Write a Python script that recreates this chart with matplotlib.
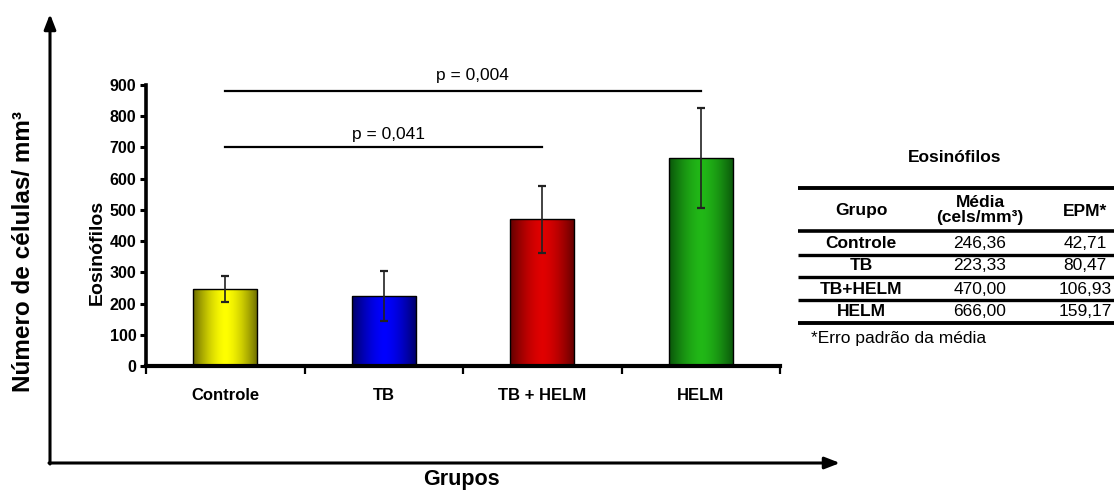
import numpy as np
import matplotlib
matplotlib.use("Agg")
import matplotlib.pyplot as plt

# data
groups = ["Controle", "TB", "TB + HELM", "HELM"]
means = [246.36, 223.33, 470.00, 666.00]
sems = [42.71, 80.47, 106.93, 159.17]
yticks = [0, 100, 200, 300, 400, 500, 600, 700, 800, 900]

# significance brackets: (from, to, height, label)
sig_pairs = [(0, 3, 881, "p = 0,004"), (0, 2, 700, "p = 0,041")]

# table contents
tbl_groups = ["Controle", "TB", "TB+HELM", "HELM"]
tbl_means = ["246,36", "223,33", "470,00", "666,00"]
tbl_sems = ["42,71", "80,47", "106,93", "159,17"]

edge_cols = [(0.42, 0.42, 0.0), (0.0, 0.0, 0.40), (0.38, 0.0, 0.0), (0.04, 0.33, 0.04)]
mid_cols = [(1.0, 1.0, 0.0), (0.0, 0.0, 1.0), (0.88, 0.0, 0.0), (0.13, 0.72, 0.09)]

plt.rcParams["font.family"] = ["Liberation Sans", "DejaVu Sans"]

W, H = 1114, 491
fig = plt.figure(figsize=(W / 100, H / 100), dpi=100)

# overlay in pixel coordinates for arrows + table
ov = fig.add_axes([0, 0, 1, 1])
ov.set_xlim(0, W)
ov.set_ylim(H, 0)
ov.axis("off")

arrow = dict(arrowstyle="-|>,head_length=0.9,head_width=0.35", color="black", lw=2.2,
             shrinkA=0, shrinkB=0)
ov.annotate("", xy=(50, 14), xytext=(50, 464), arrowprops=arrow)
ov.annotate("", xy=(840, 463), xytext=(49, 463), arrowprops=arrow)
ov.text(24, 252, "Número de células/ mm³", rotation=90, ha="center", va="center",
        fontsize=17.5, fontweight="bold")
ov.text(461, 480, "Grupos", ha="center", va="center", fontsize=15.5, fontweight="bold")
ov.text(97, 252, "Eosinófilos", rotation=90, ha="center", va="center",
        fontsize=14, fontweight="bold")

# table
FS = 12.5
ov.text(955, 157, "Eosinófilos", ha="center", va="center", fontsize=FS, fontweight="bold")
for yy, lw in [(188, 2.8), (231, 2.6), (255, 2.4), (277, 2.4), (300, 2.4), (323, 2.8)]:
    ov.plot([798, 1114], [yy, yy], color="black", lw=lw, solid_capstyle="butt")
cx = [861, 980, 1085]
ov.text(cx[0], 211, "Grupo", ha="center", va="center", fontsize=FS, fontweight="bold")
ov.text(cx[1], 210, "Média\n(cels/mm³)", ha="center", va="center", fontsize=FS,
        fontweight="bold", linespacing=1.0)
ov.text(cx[2], 211, "EPM*", ha="center", va="center", fontsize=FS, fontweight="bold")
row_y = [243, 266, 289, 312]
for g, m, s, yy in zip(tbl_groups, tbl_means, tbl_sems, row_y):
    ov.text(cx[0], yy, g, ha="center", va="center", fontsize=FS, fontweight="bold")
    ov.text(cx[1], yy, m, ha="center", va="center", fontsize=FS)
    ov.text(cx[2], yy, s, ha="center", va="center", fontsize=FS)
ov.text(811, 338, "*Erro padrão da média", ha="left", va="center", fontsize=FS)

# main bar chart
ax = fig.add_axes([146 / W, 1 - 366 / H, (780 - 146) / W, (366 - 85) / H])
ax.set_facecolor("none")
x = np.arange(len(groups))
bw = 0.405
bars = ax.bar(x, means, width=bw, color="none", edgecolor="black", linewidth=1.0, zorder=3)

t = np.linspace(-1, 1, 200)
f = 1 - np.abs(t) ** 1.6
for b, ec, mc in zip(bars, edge_cols, mid_cols):
    ec = np.array(ec)
    mc = np.array(mc)
    grad = ec[None, :] + (mc - ec)[None, :] * f[:, None]
    img = grad[None, :, :]
    x0 = b.get_x()
    im = ax.imshow(img, extent=[x0, x0 + b.get_width(), 0, b.get_height()],
                   aspect="auto", zorder=2, interpolation="bilinear")
    im.set_clip_path(b)

ax.errorbar(x, means, yerr=sems, fmt="none", ecolor="#222222", elinewidth=1.2,
            capsize=3.2, capthick=1.6, zorder=4)

for a, b2, h, lab in sig_pairs:
    ax.plot([a, b2], [h, h], color="black", lw=1.6, zorder=4)

ax.text(1.56, 929, sig_pairs[0][3], ha="center", va="center", fontsize=12.5)
ax.text(1.03, 740, sig_pairs[1][3], ha="center", va="center", fontsize=12.5)

ax.set_xlim(-0.5, 3.5)
ax.set_ylim(0, 900)
ax.set_yticks(yticks)
ax.set_yticklabels([str(v) for v in yticks], fontweight="bold", fontsize=11.5)
ax.set_xticks(x)
ax.set_xticklabels(groups, fontweight="bold", fontsize=12)
ax.set_xticks(np.arange(-0.5, 4.0, 1.0), minor=True)
ax.tick_params(axis="x", which="major", length=0, pad=16)
ax.tick_params(axis="x", which="minor", length=6, width=1.6, direction="out")
ax.tick_params(axis="y", length=4, width=2.2, direction="out", pad=3)
for s in ["top", "right"]:
    ax.spines[s].set_visible(False)
ax.spines["left"].set_linewidth(2.6)
ax.spines["bottom"].set_linewidth(3.0)

fig.savefig("out.png", dpi=100)
